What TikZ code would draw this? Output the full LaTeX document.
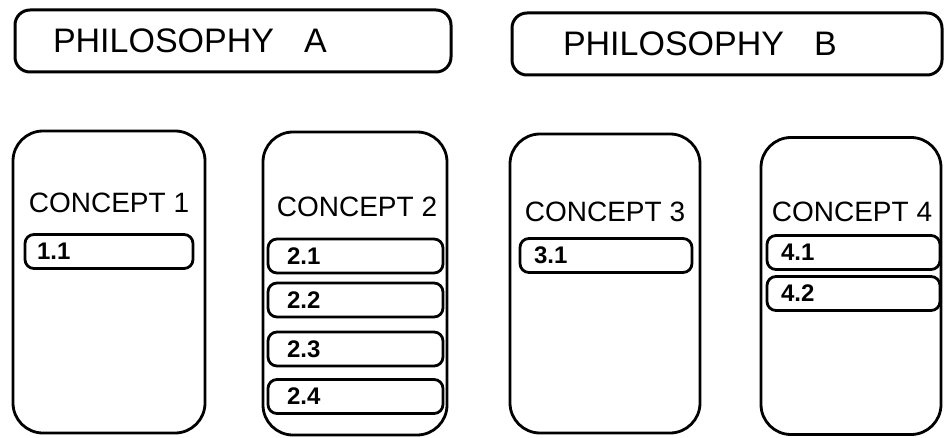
\documentclass[tikz,border=0pt]{standalone}
\usepackage{fontspec}
\setmainfont{Liberation Sans}
\begin{document}
\begin{tikzpicture}[x=1pt,y=-1pt,
    philBox/.style={draw,line width=3pt,rounded corners=15pt,minimum height=62pt,inner ysep=0pt,align=left,font=\fontsize{34}{38}\selectfont},
    cptBox/.style={draw,line width=2.8pt,rounded corners=30pt,inner sep=0pt},
    cptTitle/.style={font=\fontsize{28}{30}\selectfont,inner sep=0pt},
    cptItem/.style={draw,line width=2.8pt,rounded corners=9pt,minimum height=34pt,inner ysep=0pt,align=left,font=\bfseries\fontsize{24}{26}\selectfont},
]
\useasboundingbox (0,0) rectangle (944,438);
% Philosophies
\node[philBox,inner xsep=38pt,text width=360pt] (philA) at (233,41) {PHILOSOPHY\hspace{30pt}A};
\node[philBox,inner xsep=51pt,text width=328pt] (philB) at (727,44) {PHILOSOPHY\hspace{30pt}B};
% Concept columns
\node[cptBox,minimum width=192pt,minimum height=302pt] (cpt1) at (109,282) {};
\node[cptBox,minimum width=184pt,minimum height=303pt] (cpt2) at (355,283.5) {};
\node[cptBox,minimum width=190pt,minimum height=299pt] (cpt3) at (605,283.5) {};
\node[cptBox,minimum width=180pt,minimum height=297pt] (cpt4) at (851,286) {};
% Titles
\node[cptTitle] (cpt1T) at (109,203) {CONCEPT 1};
\node[cptTitle] (cpt2T) at (357,207) {CONCEPT 2};
\node[cptTitle] (cpt3T) at (605,212) {CONCEPT 3};
\node[cptTitle] (cpt4T) at (852,212) {CONCEPT 4};
% Items
\node[cptItem,inner xsep=12pt,text width=144pt] (it11) at (109,251.5) {1.1};
\node[cptItem,inner xsep=19pt,text width=137pt] (it21) at (355.5,256) {2.1};
\node[cptItem,inner xsep=19pt,text width=137pt] (it22) at (355.5,300) {2.2};
\node[cptItem,inner xsep=19pt,text width=137pt] (it23) at (355.5,349) {2.3};
\node[cptItem,inner xsep=19pt,text width=137pt] (it24) at (355.5,396.5) {2.4};
\node[cptItem,inner xsep=14pt,text width=144pt] (it31) at (606,255.5) {3.1};
\node[cptItem,inner xsep=14pt,text width=145pt] (it41) at (853.5,252.5) {4.1};
\node[cptItem,inner xsep=14pt,text width=145pt] (it42) at (853.5,293.5) {4.2};
\end{tikzpicture}
\end{document}
